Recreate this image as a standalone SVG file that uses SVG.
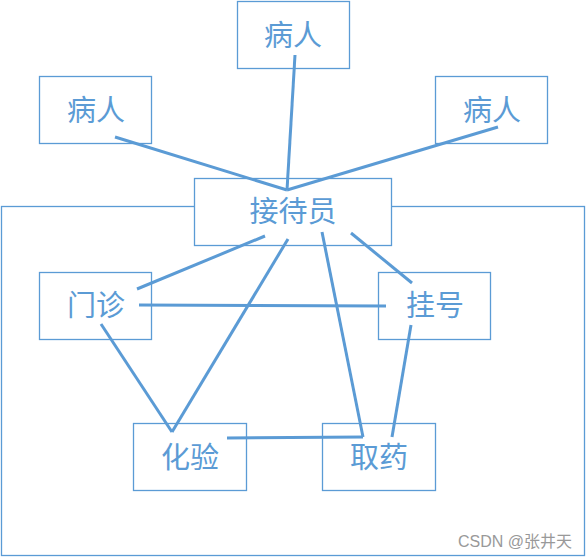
<svg xmlns="http://www.w3.org/2000/svg" width="587" height="558" viewBox="0 0 587 558">
<style>
.box{fill:#fff;stroke:#5b9bd5;stroke-width:1.3}
.lbl{font-family:"Noto Sans CJK SC",sans-serif;font-size:29px;fill:#5b9bd5;text-anchor:middle;dominant-baseline:central}
.c{stroke:#5b9bd5;stroke-width:3;fill:none}
</style>
<rect width="587" height="558" fill="#fff"/>
<rect id="frame" class="box" x="1.5" y="206.5" width="583" height="349" fill="none"/>
<g id="n_patient_top"><rect class="box" x="237.5" y="1.5" width="112" height="67"/><text class="lbl" x="293" y="33">病人</text></g>
<g id="n_patient_left"><rect class="box" x="39.5" y="76.5" width="112" height="67"/><text class="lbl" x="96" y="108">病人</text></g>
<g id="n_patient_right"><rect class="box" x="435.5" y="76.5" width="112" height="67"/><text class="lbl" x="492" y="108">病人</text></g>
<g id="n_reception"><rect class="box" x="194.5" y="178.5" width="197" height="67"/><text class="lbl" x="293" y="209">接待员</text></g>
<g id="n_clinic"><rect class="box" x="39.5" y="272.5" width="112" height="67"/><text class="lbl" x="96" y="303">门诊</text></g>
<g id="n_register"><rect class="box" x="378.5" y="272.5" width="112" height="67"/><text class="lbl" x="435" y="303">挂号</text></g>
<g id="n_lab"><rect class="box" x="133.5" y="423.5" width="113" height="67"/><text class="lbl" x="190" y="455">化验</text></g>
<g id="n_pharmacy"><rect class="box" x="322.5" y="423.5" width="113" height="67"/><text class="lbl" x="379" y="455">取药</text></g>
<g id="connectors">
<line class="c" x1="295" y1="55" x2="287" y2="190"/>
<line class="c" x1="115" y1="137" x2="287" y2="190"/>
<line class="c" x1="498" y1="127" x2="287" y2="190"/>
<line class="c" x1="265" y1="236" x2="137" y2="289"/>
<line class="c" x1="288" y1="239" x2="172" y2="432"/>
<line class="c" x1="101" y1="324" x2="172" y2="432"/>
<line class="c" x1="139" y1="305" x2="386" y2="306"/>
<line class="c" x1="322" y1="232" x2="363" y2="437"/>
<line class="c" x1="351" y1="233" x2="412" y2="283"/>
<line class="c" x1="411" y1="325" x2="392" y2="437"/>
<line class="c" x1="227" y1="438" x2="363" y2="437"/>
</g>
<text x="572" y="541" font-family="'Liberation Sans','Noto Sans CJK SC',sans-serif" font-size="16" fill="#999" text-anchor="end" dominant-baseline="central">CSDN @张井天</text>
</svg>
